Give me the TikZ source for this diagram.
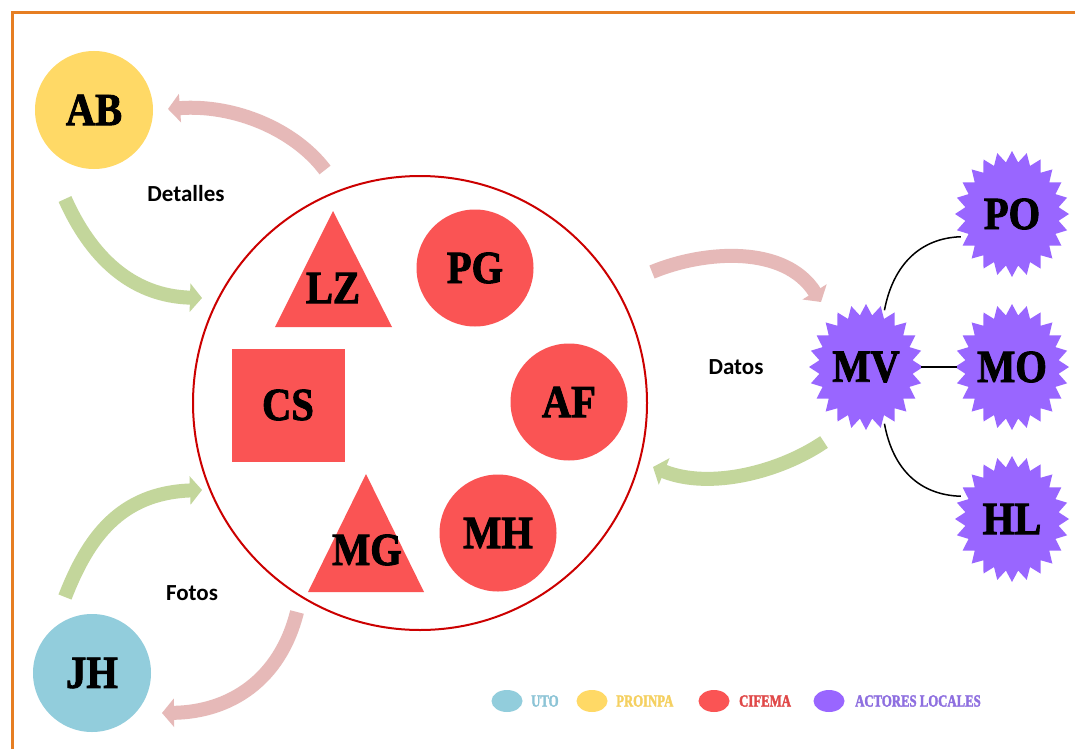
\documentclass[tikz,border=0pt]{standalone}
\usepackage{fontspec}
\setmainfont{Liberation Serif}
\newfontfamily\labelfont{Carlito}
\newfontfamily\tagfont{Liberation Serif}[FakeStretch=0.88, BoldFeatures={FakeBold=2}]
\newfontfamily\legendfont{Liberation Serif}[FakeStretch=0.75, BoldFeatures={FakeBold=2}]
\usetikzlibrary{shapes.geometric,arrows.meta}

\definecolor{frameorange}{HTML}{E67E22}
\definecolor{utoblue}{HTML}{92CDDC}
\definecolor{proyellow}{HTML}{FFD966}
\definecolor{cifred}{HTML}{FA5454}
\definecolor{ringred}{HTML}{CC0000}
\definecolor{actpurple}{HTML}{9966FF}
\definecolor{flowpink}{HTML}{E6B9B8}
\definecolor{flowgreen}{HTML}{C3D69B}
\definecolor{legblue}{HTML}{8CC4D6}
\definecolor{legyellow}{HTML}{F5D060}
\definecolor{legred}{HTML}{E04848}
\definecolor{legpurple}{HTML}{8E6FE0}

% 24-point burst centred at (#1,#2)
\newcommand\actorburst[2]{%
  \fill[actpurple] (#1+57,#2)
    \foreach \k in {1,...,47} {
      -- ({#1+(isodd(\k)?47:57)*cos(7.5*\k)}, {#2+(isodd(\k)?52:63)*sin(7.5*\k)})
    } -- cycle;}

\tikzset{
  tagtext/.style={font=\tagfont\bfseries\fontsize{46}{46}\selectfont, text=black},
  partner/.style={circle, minimum size=118pt, inner sep=0pt, tagtext},
  member/.style={circle, fill=cifred, minimum size=117pt, inner sep=0pt, tagtext},
  actor/.style={ellipse, minimum width=110pt, minimum height=120pt, inner sep=0pt, tagtext},
  flowlabel/.style={font=\labelfont\bfseries\fontsize{23}{23}\selectfont},
  flow/.style={line width=14pt, line cap=butt,
               -{Triangle[width=28pt,length=12pt]}},
  link/.style={line width=1.5pt, black},
  legdot/.style={ellipse, minimum width=31pt, minimum height=22pt, inner sep=0pt},
  legtext/.style={anchor=west, inner sep=0pt,
                  font=\legendfont\bfseries\fontsize{17}{17}\selectfont}
}

\begin{document}
\begin{tikzpicture}[x=1pt, y=-1pt]
  \useasboundingbox (0,0) rectangle (1075,749);
  \fill[white] (0,0) rectangle (1075,749);

  % page frame (top and left edges)
  \draw[frameorange, line width=3pt] (12,749) -- (12,13) -- (1075,13);

  % institution circles
  \node[partner, fill=proyellow] (AB) at (94,110) {AB};
  \node[partner, fill=utoblue]   (JH) at (92,673) {JH};

  % CIFEMA group
  \node[circle, draw=ringred, line width=2pt, minimum size=454pt, inner sep=0pt] (C) at (420,403) {};
  \fill[cifred] (333,211) -- (275,327) -- (392,327) -- cycle;
  \node[tagtext] (LZ) at (333,288) {LZ};
  \node[member] (PG) at (475,268) {PG};
  \node[rectangle, fill=cifred, minimum size=113pt, inner sep=0pt, tagtext] (CS) at (288,405) {CS};
  \node[member] (AF) at (569,402) {AF};
  \fill[cifred] (366,474) -- (308,592) -- (424,592) -- cycle;
  \node[tagtext] (MG) at (367,550) {MG};
  \node[member] (MH) at (498,533) {MH};

  % local actors
  \actorburst{866}{367}
  \actorburst{1012}{214}
  \actorburst{1012}{367}
  \actorburst{1012}{519}
  \node[actor] (MV) at (866,367) {MV};
  \node[actor] (PO) at (1012,214) {PO};
  \node[actor] (MO) at (1012,367) {MO};
  \node[actor] (HL) at (1012,519) {HL};

  \draw[link] (MV.72) .. controls (893,265) and (920,238) .. (PO.204);
  \draw[link] (MV) -- (MO);
  \draw[link] (MV.-72) .. controls (893,470) and (920,495) .. (HL.156);

  % flow arrow ends
  \coordinate (a1s) at (325,170);  \coordinate (a1e) at (168,109);
  \coordinate (a2s) at (65,199);   \coordinate (a2e) at (202,298);
  \coordinate (a3s) at (65,597);   \coordinate (a3e) at (202,490);
  \coordinate (a4s) at (297,612);  \coordinate (a4e) at (162,713);
  \coordinate (a5s) at (652,272);  \coordinate (a5e) at (821,302);
  \coordinate (a6s) at (824,442);  \coordinate (a6e) at (653,467);

  \draw[flow, flowpink]  (a1s) .. controls (295,130) and (235,104) .. (a1e);
  \draw[flow, flowgreen] (a2s) .. controls (90,255) and (130,296) .. (a2e);
  \draw[flow, flowgreen] (a3s) .. controls (88,538) and (120,493) .. (a3e);
  \draw[flow, flowpink]  (a4s) .. controls (280,680) and (230,712) .. (a4e);
  \draw[flow, flowpink]  (a5s) .. controls (705,250) and (785,245) .. (a5e);
  \draw[flow, flowgreen] (a6s) .. controls (780,472) and (710,490) .. (a6e);

  % flow labels
  \node[flowlabel] (det) at (186,194) {Detalles};
  \node[flowlabel] (fot) at (192,593) {Fotos};
  \node[flowlabel] (dat) at (736,367) {Datos};

  % legend
  \node[legdot, fill=utoblue]   (kUTO) at (507,701) {};
  \node[legtext, text=legblue]  (tUTO) at (531,701) {UTO};
  \node[legdot, fill=proyellow] (kPRO) at (592,701) {};
  \node[legtext, text=legyellow] (tPRO) at (616,701) {PROINPA};
  \node[legdot, fill=cifred]    (kCIF) at (714,701) {};
  \node[legtext, text=legred]   (tCIF) at (739,701) {CIFEMA};
  \node[legdot, fill=actpurple] (kACT) at (829,701) {};
  \node[legtext, text=legpurple] (tACT) at (855,701) {ACTORES LOCALES};
\end{tikzpicture}
\end{document}
